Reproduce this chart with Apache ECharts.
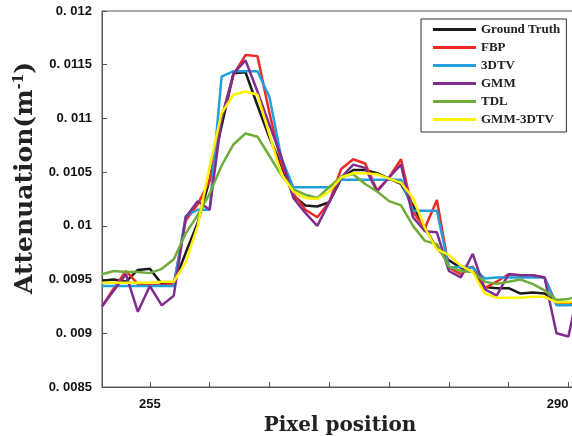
<!DOCTYPE html>
<html>
<head>
<meta charset="utf-8">
<script src="https://cdn.jsdelivr.net/npm/echarts@6/dist/echarts.min.js"></script>
<style>
html, body { margin: 0; padding: 0; background: #fff; }
#chart { width: 572px; height: 436px; }
</style>
</head>
<body>
<div id="chart"></div>
<script>
let pixelPos = [251, 252, 253, 254, 255, 256, 257, 258, 259, 260, 261, 262, 263, 264, 265, 266, 267, 268, 269, 270,
  271, 272, 273, 274, 275, 276, 277, 278, 279, 280, 281, 282, 283, 284, 285, 286, 287, 288, 289, 290, 291]

let groundTruth = [0.00949, 0.00950, 0.00948, 0.00959, 0.00960, 0.00946, 0.00946, 0.00975, 0.01003, 0.01043,
  0.01093, 0.01142, 0.01143, 0.01112, 0.01082, 0.01056, 0.01028, 0.01019, 0.01018, 0.01022,
  0.01044, 0.01052, 0.01052, 0.01049, 0.01044, 0.01039, 0.01019, 0.00998, 0.00979, 0.00968,
  0.00961, 0.00957, 0.00943, 0.00942, 0.00942, 0.00937, 0.00938, 0.00937, 0.00929, 0.00928, 0.00929]

let fbp = [0.00925, 0.00942, 0.00958, 0.00946, 0.00945, 0.00945, 0.00946, 0.01005, 0.01020, 0.01042,
  0.01100, 0.01141, 0.01159, 0.01158, 0.01105, 0.01058, 0.01030, 0.01015, 0.01008, 0.01022,
  0.01053, 0.01062, 0.01058, 0.01033, 0.01045, 0.01062, 0.01013, 0.00998, 0.01024, 0.00961,
  0.00955, 0.00962, 0.00942, 0.00948, 0.00955, 0.00954, 0.00954, 0.00952, 0.00927, 0.00927, 0.00928]

let tv3d = [0.00944, 0.00944, 0.00944, 0.00944, 0.00944, 0.00944, 0.00944, 0.01009, 0.01015, 0.01015,
  0.01139, 0.01144, 0.01144, 0.01144, 0.01120, 0.01063, 0.01036, 0.01036, 0.01036, 0.01036,
  0.01043, 0.01043, 0.01043, 0.01043, 0.01043, 0.01043, 0.01014, 0.01014, 0.01014, 0.00961,
  0.00962, 0.00961, 0.00951, 0.00952, 0.00952, 0.00952, 0.00952, 0.00952, 0.00926, 0.00926, 0.00927]

let gmm = [0.00925, 0.00940, 0.00955, 0.00920, 0.00944, 0.00926, 0.00935, 0.01008, 0.01023, 0.01015,
  0.01100, 0.01142, 0.01154, 0.01125, 0.01094, 0.01064, 0.01026, 0.01012, 0.01000, 0.01022,
  0.01045, 0.01057, 0.01054, 0.01032, 0.01045, 0.01057, 0.01008, 0.00995, 0.00994, 0.00958,
  0.00952, 0.00974, 0.00941, 0.00935, 0.00955, 0.00954, 0.00954, 0.00952, 0.00900, 0.00897, 0.00950]

let tdl = [0.00955, 0.00958, 0.00957, 0.00957, 0.00956, 0.00960, 0.00969, 0.00993, 0.01010, 0.01030,
  0.01056, 0.01076, 0.01086, 0.01083, 0.01065, 0.01047, 0.01034, 0.01029, 0.01026, 0.01036,
  0.01046, 0.01048, 0.01039, 0.01032, 0.01023, 0.01019, 0.01000, 0.00986, 0.00983, 0.00962,
  0.00958, 0.00957, 0.00948, 0.00946, 0.00948, 0.00950, 0.00946, 0.00940, 0.00931, 0.00932, 0.00935]

let gmm3dtv = [0.00947, 0.00947, 0.00947, 0.00947, 0.00947, 0.00948, 0.00948, 0.00966, 0.01000, 0.01055,
  0.01105, 0.01122, 0.01125, 0.01122, 0.01085, 0.01048, 0.01032, 0.01026, 0.01025, 0.01032,
  0.01045, 0.01049, 0.01049, 0.01048, 0.01044, 0.01040, 0.01026, 0.00998, 0.00978, 0.00973,
  0.00963, 0.00957, 0.00937, 0.00933, 0.00933, 0.00933, 0.00934, 0.00934, 0.00929, 0.00929, 0.00930]

let seriesNames = ['Ground Truth', 'FBP', '3DTV', 'GMM', 'TDL', 'GMM-3DTV']
let seriesColors = ['#1a1a1a', '#ec2a26', '#22a0dc', '#7f2d8f', '#6fac3a', '#fff200']
let xLabelValues = [255, 290]
let xTickValues = [255, 260, 265, 270, 275, 280, 285, 290]

let allData = [groundTruth, fbp, tv3d, gmm, tdl, gmm3dtv]

function pairs (vals) {
  return pixelPos.map((p, i) => [p, vals[i]])
}

let series = []
for (let i = 0; i < allData.length; i++) {
  series.push({
    name: seriesNames[i],
    type: 'line',
    data: pairs(allData[i]),
    symbol: 'none',
    lineStyle: { width: 2.5, color: seriesColors[i] },
    itemStyle: { color: seriesColors[i] },
    clip: true
  })
}

let myChart = echarts.init(document.getElementById('chart'))
let option = {
  animation: false,
  color: seriesColors,
  grid: {
    left: 102,
    right: -1,
    top: 11,
    bottom: 49,
    outerBoundsMode: 'none',
    containLabel: false,
    show: true,
    borderColor: '#555',
    borderWidth: 1
  },
  legend: {
    orient: 'vertical',
    left: 421,
    top: 19,
    padding: [4, 6, 6, 12],
    icon: 'rect',
    itemWidth: 43,
    itemHeight: 3,
    itemGap: 5,
    borderColor: '#333',
    borderWidth: 1,
    backgroundColor: '#fff',
    textStyle: {
      fontFamily: '"Liberation Serif", "Times New Roman", serif',
      fontWeight: 'bold',
      fontSize: 13,
      color: '#222'
    },
    data: seriesNames
  },
  xAxis: {
    type: 'value',
    min: 251,
    max: 290.38,
    name: 'Pixel position',
    nameLocation: 'middle',
    nameGap: 21,
    nameTextStyle: {
      fontFamily: '"DejaVu Serif", serif',
      fontWeight: 'bold',
      fontSize: 20,
      color: '#222',
      padding: [0, 0, 0, 5]
    },
    axisLine: { lineStyle: { color: '#555' } },
    axisTick: { inside: true, length: 5, customValues: xTickValues, lineStyle: { color: '#555' } },
    axisLabel: {
      customValues: xLabelValues,
      alignMaxLabel: 'right',
      margin: 11,
      fontFamily: '"Liberation Sans", Arial, sans-serif',
      fontWeight: 'bold',
      fontSize: 13,
      color: '#111'
    },
    splitLine: { show: false }
  },
  yAxis: {
    type: 'value',
    min: 0.0085,
    max: 0.012,
    interval: 0.0005,
    name: 'Attenuation(m{sup|-1})',
    nameLocation: 'middle',
    nameRotate: 90,
    nameGap: 58,
    nameTextStyle: {
      fontFamily: '"DejaVu Serif", serif',
      fontWeight: 'bold',
      fontSize: 25,
      color: '#222',
      padding: [0, 0, 0, 42],
      rich: {
        sup: {
          fontFamily: '"DejaVu Serif", serif',
          fontWeight: 'bold',
          fontSize: 14,
          color: '#222',
          verticalAlign: 'top'
        }
      }
    },
    axisLine: { show: true, lineStyle: { color: '#555' } },
    axisTick: { show: true, inside: true, length: 5, lineStyle: { color: '#555' } },
    axisLabel: {
      margin: 10,
      fontFamily: '"Liberation Sans", Arial, sans-serif',
      fontWeight: 'bold',
      fontSize: 13,
      color: '#111',
      formatter: function (v) {
        return parseFloat(v.toFixed(5)).toString().replace('0.', '0. ')
      }
    },
    splitLine: { show: false }
  },
  series: series
}
myChart.setOption(option)
</script>
</body>
</html>
